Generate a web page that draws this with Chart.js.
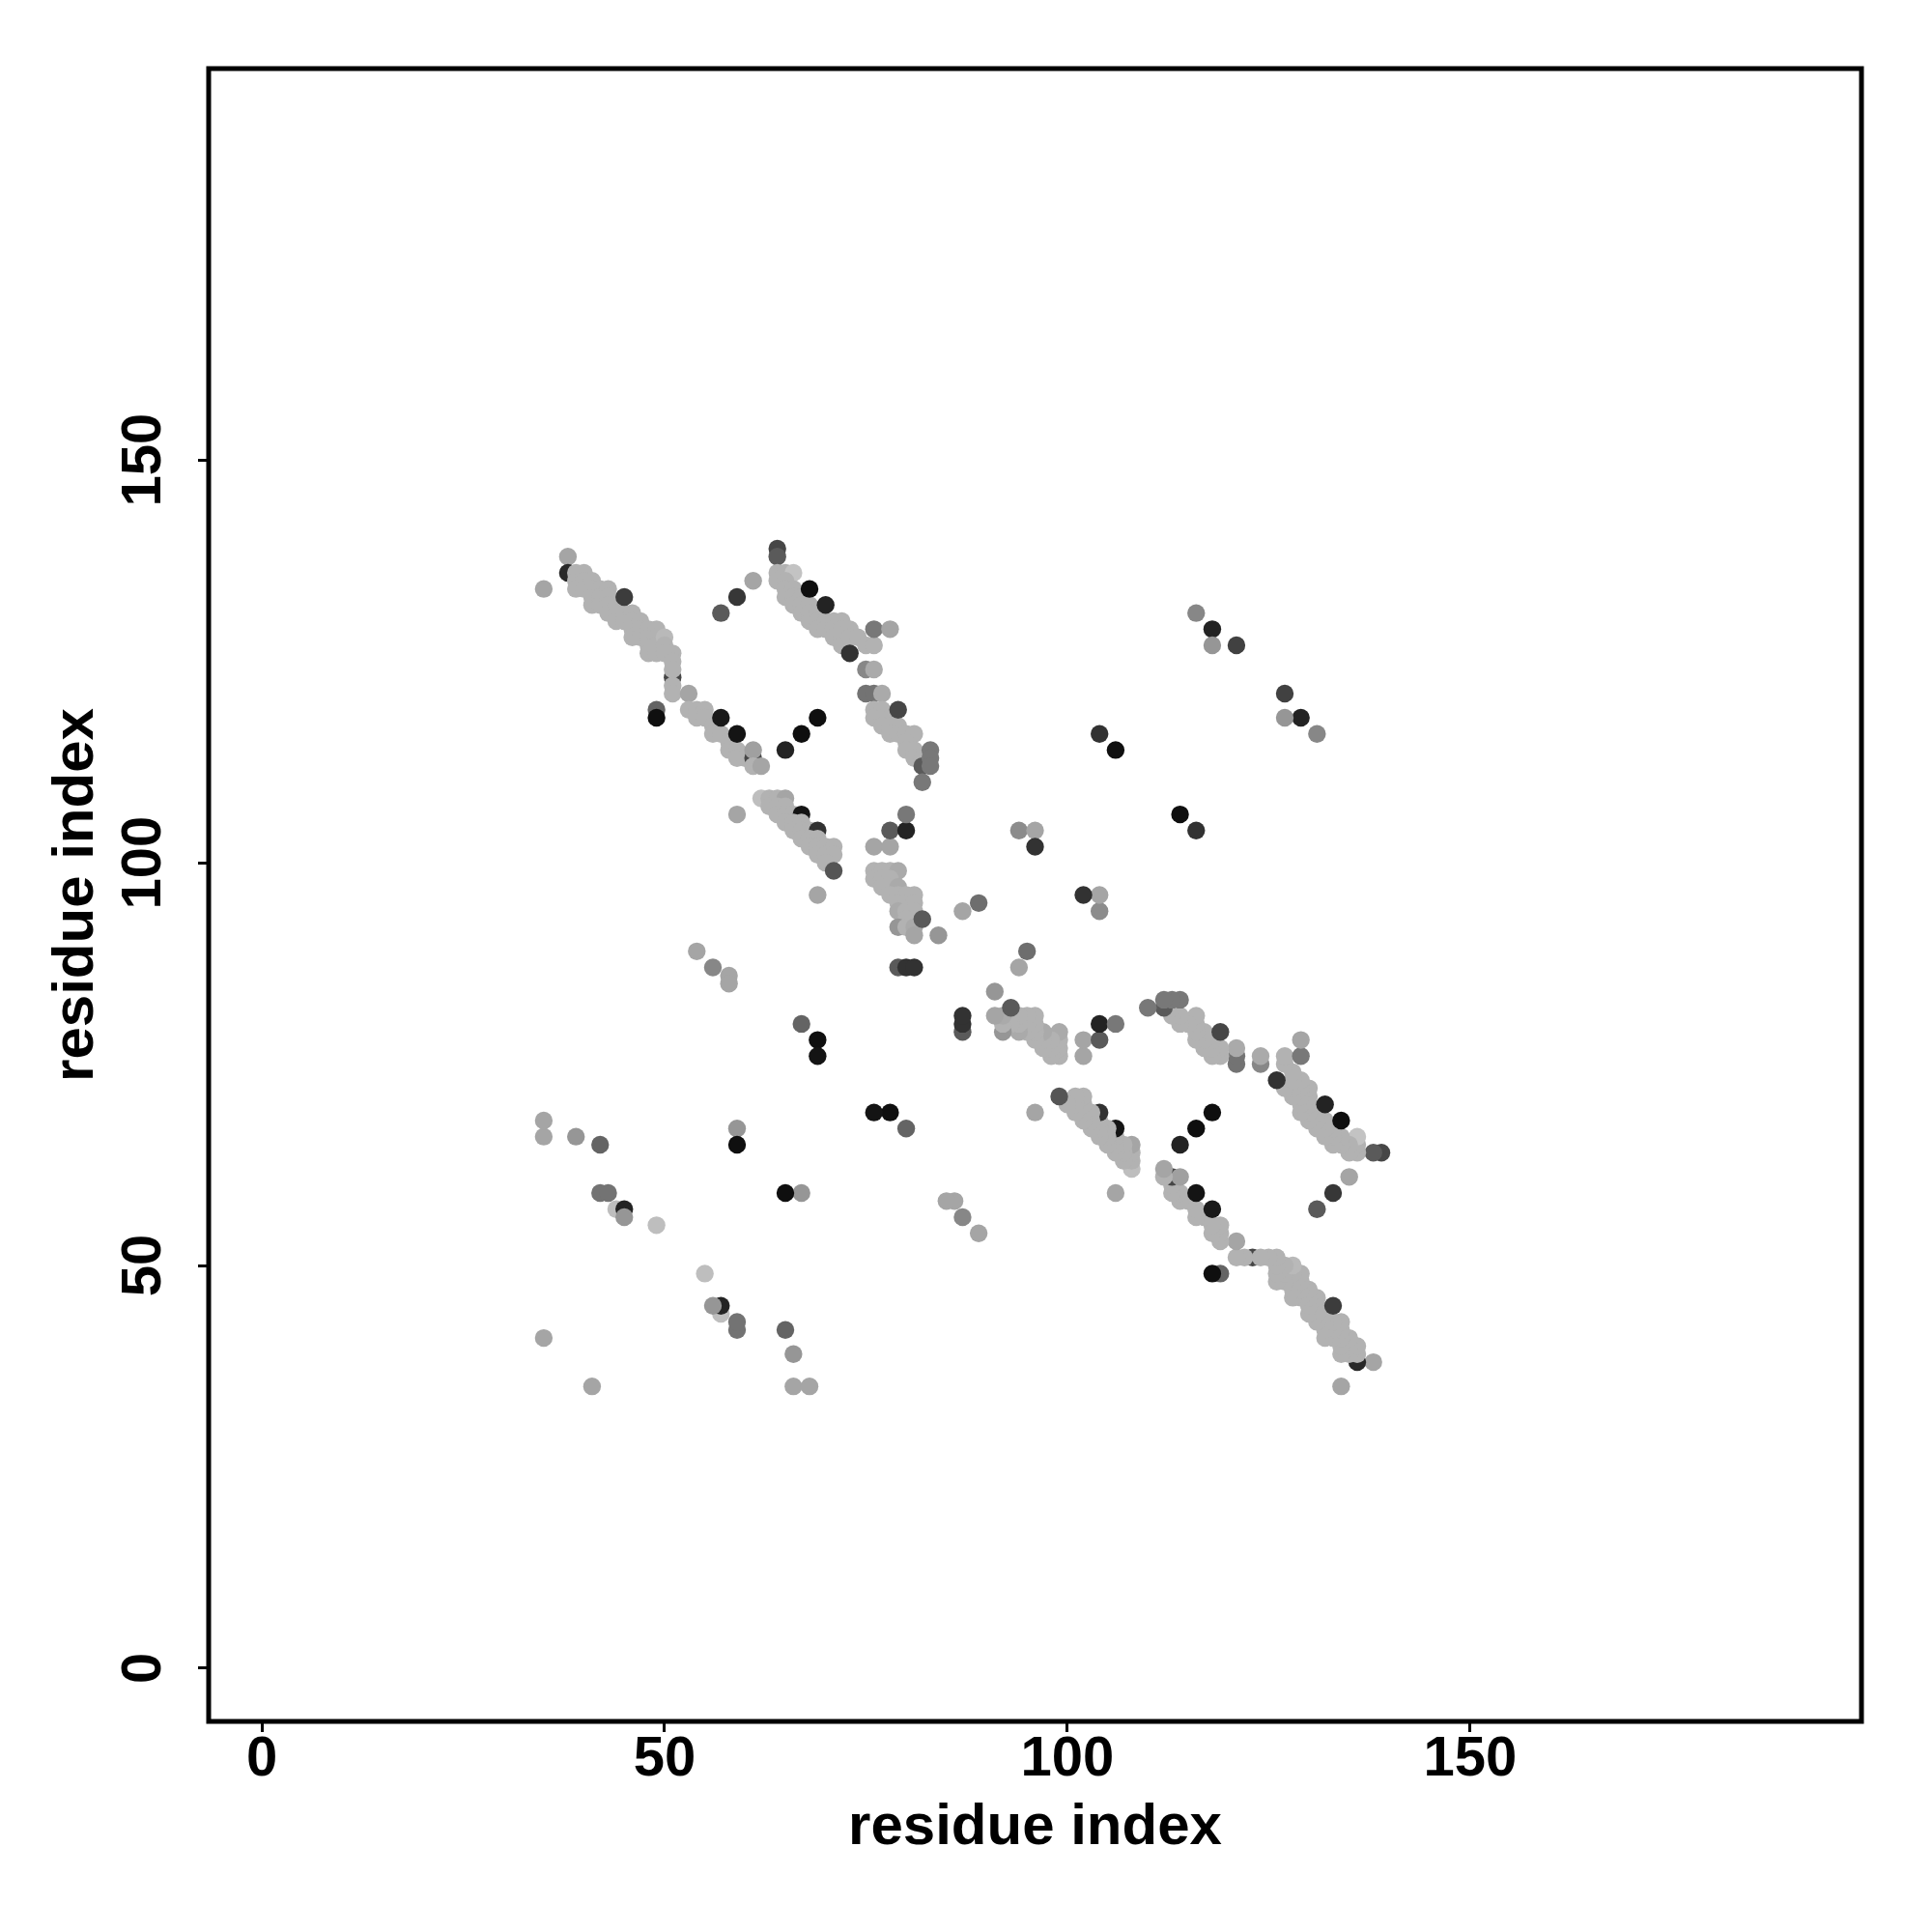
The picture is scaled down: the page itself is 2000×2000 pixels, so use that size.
<!DOCTYPE html>
<html>
<head>
<meta charset="utf-8">
<script src="https://cdn.jsdelivr.net/npm/chart.js@4.4.0/dist/chart.umd.min.js"></script>
<style>
  html, body { margin: 0; padding: 0; background: #fff; }
</style>
</head>
<body>
<canvas id="contactMap" width="2000" height="2000"></canvas>
<script>
// axis setup
const axisMin = -6.6;
const axisMax = 198.6;
const tickValues = [0, 50, 100, 150];
const axisTitle = 'residue index';

// contacts as [i, j, grey level], i < j -- the map is symmetric so each one is drawn twice
const strandPairA = [
    [35,134,165],[38,138,165],[38,136,40],
    [39,136,178],[39,135,178],[39,134,178],[40,136,178],[40,135,178],[40,134,178],
    [41,135,178],[41,134,178],[41,133,178],[41,132,178],
    [42,134,178],[42,133,178],[42,132,178],
    [43,134,178],[43,133,178],[43,132,178],[43,131,178],
    [44,132,178],[44,131,178],[44,130,178],
    [45,131,178],[45,130,178],[45,133,60],
    [46,131,178],[46,130,178],[46,129,178],[46,128,178],
    [47,130,178],[47,129,178],[47,128,178],
    [48,129,178],[48,128,178],[48,127,178],[48,126,178],
    [49,129,178],[49,128,178],[49,127,178],[49,126,178],
    [49,119,100],[49,118,15],
    [50,128,185],[50,127,178],[50,126,178],
    [51,123,70],[51,126,178],[51,125,178],[51,124,178],[51,122,178],[51,121,178],
    [53,121,165],[53,119,178],[54,119,178],[54,118,178],[55,119,178],[55,118,178],
    [56,117,178],[56,116,178],[57,116,178],[57,118,25],
    [58,115,178],[58,114,178],[59,114,178],[59,113,178],[59,116,20],
    [60,113,178],[61,113,70],[61,114,160],[61,112,178],[62,112,165]
];

const strandPairB = [
    [64,139,70],[64,138,90],
    [64,136,178],[64,135,178],[65,136,178],[66,136,195],[65,135,178],[65,134,178],[66,134,178],
    [65,133,178],[66,133,178],[66,132,178],
    [67,133,178],[67,132,178],[67,131,178],[68,132,178],[68,131,178],[68,130,178],[68,134,15],
    [69,131,178],[69,130,178],[69,129,178],[70,130,178],[70,129,178],[70,132,35],
    [71,130,178],[71,129,178],[71,128,178],[72,130,178],[72,129,178],[72,128,178],[72,127,178],
    [73,129,178],[73,128,178],[74,128,178],[73,126,50],
    [75,127,178],[76,127,178],[76,129,120],[78,129,165],
    [75,124,135],[76,124,170],
    [75,121,115],[76,121,115],[77,121,170],
    [76,119,178],[77,119,178],[76,118,178],[77,118,178],[78,118,178],
    [77,117,178],[78,117,178],[79,117,178],[79,119,70],
    [78,116,178],[79,116,178],[80,116,178],[81,116,178],[80,115,178],
    [80,114,178],[81,114,178],[81,113,178],[82,113,178],
    [82,112,90],[83,114,120],[83,113,120],[83,112,120],[82,110,120]
];

const strandPairC = [
    [59,106,165],[62,108,190],[63,108,178],[64,108,178],[65,108,165],
    [63,107,178],[64,107,178],[65,107,178],[64,106,178],[65,106,178],[66,106,178],[67,106,20],
    [65,105,178],[66,105,178],[67,105,178],[66,104,178],[67,104,178],[68,104,178],[69,104,50],
    [67,103,178],[68,103,178],[69,103,178],[68,102,178],[69,102,178],[70,102,178],[71,102,178],
    [69,101,178],[70,101,178],[71,101,178],[70,100,178],[71,99,85]
];

const strandPairD = [
    [76,102,165],[78,102,165],[78,104,90],[80,104,35],[80,106,120],
    [76,99,178],[77,99,178],[78,99,178],[79,99,170],
    [76,98,178],[77,98,178],[78,98,178],
    [77,97,178],[78,97,178],[79,97,170],
    [78,96,178],[79,96,178],[80,96,178],[81,96,178],
    [79,95,178],[80,95,178],[81,95,178],
    [79,94,170],[80,94,178],[81,94,178],
    [80,93,178],[81,93,178],
    [79,92,150],[80,92,178],[81,92,170],[81,91,165],
    [82,93,90],[84,91,150],[87,94,165],[89,95,110],
    [79,87,90],[80,87,50],[81,87,50],
    [94,104,140],[96,104,165],[96,102,50]
];

const otherContacts = [
    [35,41,165],[35,66,165],[35,68,165],[39,66,150],[42,65,100],
    [42,59,115],[43,59,115],[44,57,190],[45,57,35],[45,56,150],[49,55,190],
    [54,89,165],[56,87,135],[58,86,165],[58,85,165],
    [57,131,90],[59,133,55],[61,135,165],
    [59,67,150],[59,65,15],
    [65,114,35],[67,116,15],[69,118,15],
    [67,80,100],[69,78,15],[69,76,20],[69,96,165],
    [104,116,50],[106,114,15],
    [116,131,135],[118,129,35],[118,127,150],[121,127,65]
];

const fontFamily = "'Liberation Sans', Arial, Helvetica, sans-serif";

const allContacts = strandPairA.concat(strandPairB, strandPairC, strandPairD, otherContacts);
const points = [];
const colors = [];
allContacts.forEach(function (c) {
    const grey = 'rgb(' + c[2] + ',' + c[2] + ',' + c[2] + ')';
    points.push({ x: c[0], y: c[1] });
    colors.push(grey);
    points.push({ x: c[1], y: c[0] });
    colors.push(grey);
});

// plot frame like R's box()
const boxPlugin = {
    id: 'plotBox',
    afterDatasetsDraw: function (chart) {
        const a = chart.chartArea;
        const ctx = chart.ctx;
        ctx.save();
        ctx.strokeStyle = '#000';
        ctx.lineWidth = 5;
        ctx.strokeRect(a.left, a.top, a.right - a.left, a.bottom - a.top);
        ctx.restore();
    }
};

function setTicks(scale) {
    scale.ticks = tickValues.map(v => ({ value: v }));
}

const ctx = document.getElementById('contactMap').getContext('2d');
new Chart(ctx, {
    type: 'scatter',
    data: {
        datasets: [{
            data: points,
            backgroundColor: colors,
            borderWidth: 0,
            pointRadius: 9.2,
            pointHoverRadius: 9.2
        }]
    },
    options: {
        responsive: false,
        animation: false,
        devicePixelRatio: 1,
        layout: { padding: { top: 71, right: 73, left: 0, bottom: 0 } },
        plugins: {
            legend: { display: false },
            tooltip: { enabled: false }
        },
        scales: {
            x: {
                type: 'linear',
                min: axisMin,
                max: axisMax,
                afterBuildTicks: setTicks,
                afterFit: function (scale) { scale.height = 218; },
                border: { display: false },
                grid: { drawOnChartArea: false, drawTicks: true, tickLength: 11, tickWidth: 3, tickColor: '#000' },
                ticks: {
                    color: '#000',
                    autoSkip: false,
                    maxRotation: 0,
                    padding: 0,
                    font: { family: fontFamily, size: 58, weight: 'bold', lineHeight: 1 }
                },
                title: {
                    display: true,
                    text: axisTitle,
                    color: '#000',
                    font: { family: fontFamily, size: 60, weight: 'bold', lineHeight: 1.2 },
                    padding: { top: 0, bottom: 72 }
                }
            },
            y: {
                type: 'linear',
                min: axisMin,
                max: axisMax,
                afterBuildTicks: setTicks,
                afterFit: function (scale) { scale.width = 216; },
                border: { display: false },
                grid: { drawOnChartArea: false, drawTicks: true, tickLength: 11, tickWidth: 3, tickColor: '#000' },
                ticks: {
                    color: '#000',
                    autoSkip: false,
                    minRotation: 90,
                    maxRotation: 90,
                    crossAlign: 'center',
                    padding: 7,
                    font: { family: fontFamily, size: 58, weight: 'bold', lineHeight: 1 }
                },
                title: {
                    display: true,
                    text: axisTitle,
                    color: '#000',
                    font: { family: fontFamily, size: 60, weight: 'bold', lineHeight: 1.2 },
                    padding: { top: 43, bottom: 0 }
                }
            }
        }
    },
    plugins: [boxPlugin]
});
</script>
</body>
</html>
